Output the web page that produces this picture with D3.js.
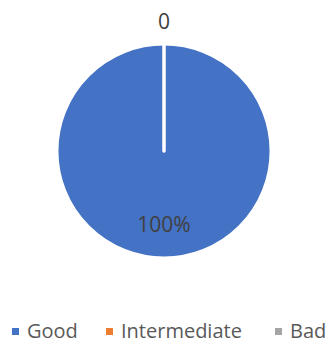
<!DOCTYPE html>
<html>
<head>
<meta charset="utf-8">
<script src="https://cdn.jsdelivr.net/npm/d3@7/dist/d3.min.js"></script>
<style>
  html, body { margin: 0; padding: 0; background: #fff; }
  svg { display: block; font-family: "Open Sans", "Liberation Sans", sans-serif; }
</style>
</head>
<body>
<svg id="chart" width="329" height="342"></svg>
<script>
// Share of ratings by category
const categories = ["Good", "Intermediate", "Bad"];
const values = [100, 0, 0];
const colors = ["#4472C4", "#ED7D31", "#A5A5A5"];

const svg = d3.select("#chart");
const cx = 164, cy = 151, r = 107;

const total = d3.sum(values);
const pie = d3.pie().sort(null).value(d => d.value);
const arcs = pie(categories.map((c, i) => ({ name: c, value: values[i], color: colors[i] })));

const arc = d3.arc().innerRadius(0).outerRadius(r);
const g = svg.append("g").attr("transform", `translate(${cx},${cy})`);

g.selectAll("path.slice")
  .data(arcs)
  .join("path")
  .attr("class", "slice")
  .attr("d", arc)
  .attr("fill", d => d.data.color)
  .attr("stroke", "#fff")
  .attr("stroke-width", 3)
  .attr("stroke-linejoin", "round");

// Labels: non-empty slices get a percentage inside; empty slices get their value just outside
const inner = d3.arc().innerRadius(r * 0.68).outerRadius(r * 0.68);
const outer = d3.arc().innerRadius(r + 23).outerRadius(r + 23);

const labelled = [];
arcs.forEach(d => {
  if (d.data.value > 0) {
    const [x, y] = inner.centroid(d);
    labelled.push({ x, y, text: d3.format(".0%")(d.data.value / total) });
  } else {
    const [x, y] = outer.centroid(d);
    // zero-width slices share the same spot; draw the value once
    if (!labelled.some(l => Math.abs(l.x - x) < 1 && Math.abs(l.y - y) < 1)) {
      labelled.push({ x, y, text: String(d.data.value) });
    }
  }
});

g.selectAll("text.lbl")
  .data(labelled)
  .join("text")
  .attr("class", "lbl")
  .attr("x", d => d.x)
  .attr("y", d => d.y)
  .attr("text-anchor", "middle")
  .attr("dominant-baseline", "central")
  .attr("font-size", 21)
  .attr("fill", "#404040")
  .text(d => d.text);

// Legend along the bottom
const legendX = [12, 106, 275];
const legend = svg.append("g").attr("transform", "translate(0,328)");
const items = legend.selectAll("g")
  .data(categories)
  .join("g")
  .attr("transform", (d, i) => `translate(${legendX[i]},0)`);
items.append("rect")
  .attr("x", 0).attr("y", 0)
  .attr("width", 7).attr("height", 7)
  .attr("fill", (d, i) => colors[i]);
items.append("text")
  .attr("x", 15)
  .attr("y", 2)
  .attr("dominant-baseline", "central")
  .attr("font-size", 20)
  .attr("fill", "#595959")
  .text(d => d);
</script>
</body>
</html>
